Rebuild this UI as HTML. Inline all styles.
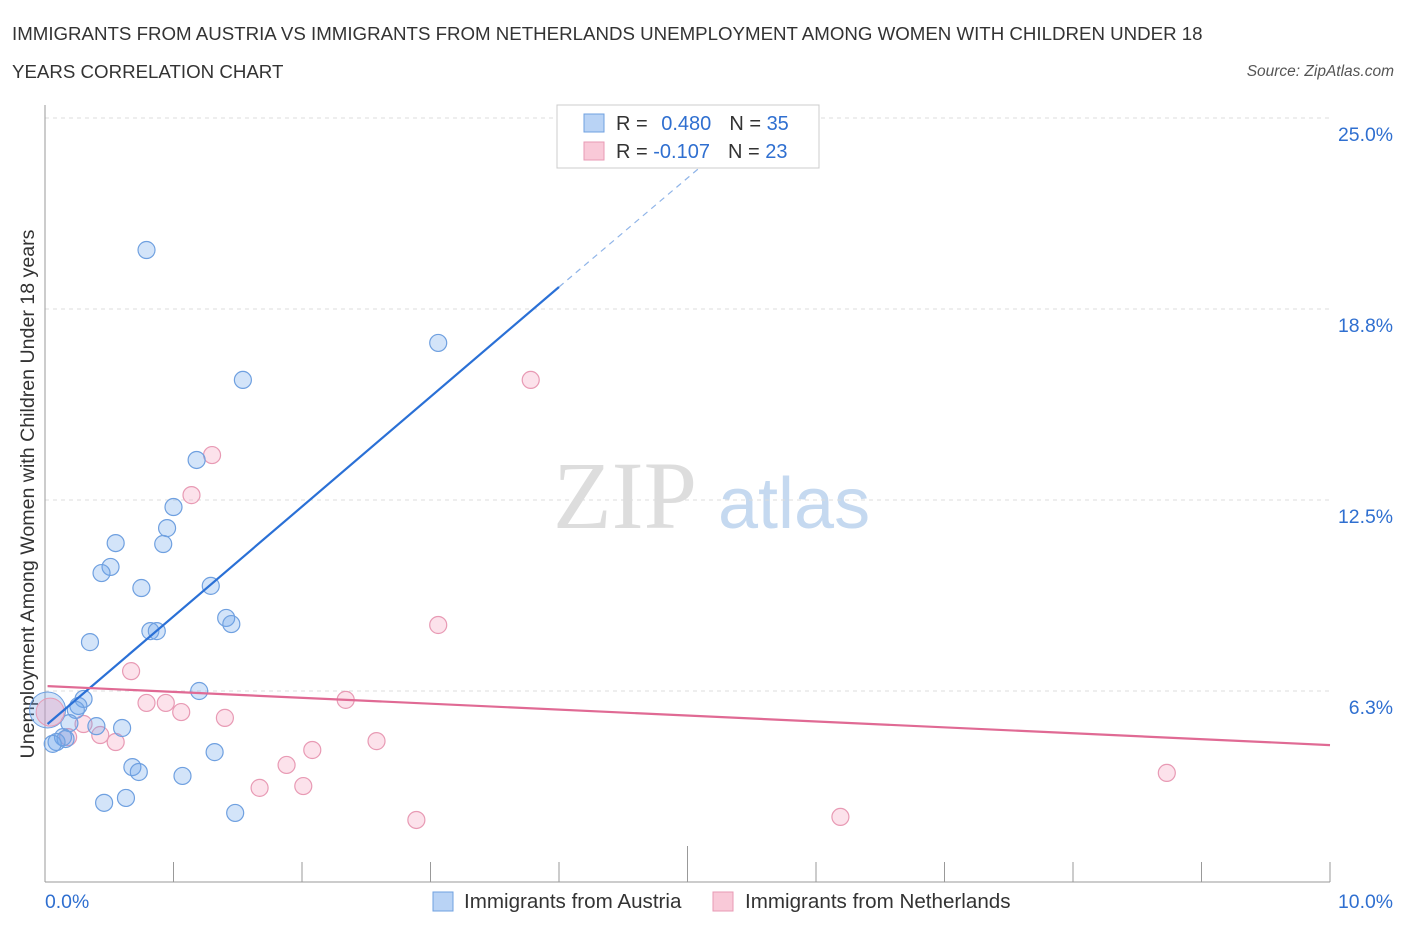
<!DOCTYPE html>
<html><head><meta charset="utf-8"><style>
body{margin:0;background:#fff;font-family:"Liberation Sans",sans-serif;}
svg text{font-family:"Liberation Sans",sans-serif;}
</style></head><body>
<svg id="c" width="1406" height="930">
<text x="12" y="40" font-size="18.7" fill="#333">IMMIGRANTS FROM AUSTRIA VS IMMIGRANTS FROM NETHERLANDS UNEMPLOYMENT AMONG WOMEN WITH CHILDREN UNDER 18</text>
<text x="12" y="78" font-size="18.7" fill="#333">YEARS CORRELATION CHART</text>
<text x="1394" y="76" font-size="15.5" fill="#555" font-style="italic" text-anchor="end">Source: ZipAtlas.com</text>
<text x="553" y="528" font-size="96" fill="#ddd" style="font-family:'Liberation Serif',serif">ZIP</text>
<text x="718" y="528" font-size="72" fill="#c5d9f0">atlas</text>
<text transform="translate(34,494) rotate(-90)" font-size="19.6" fill="#333" text-anchor="middle">Unemployment Among Women with Children Under 18 years</text>
<g id="grid"></g><g id="pts"></g><g id="lines"></g>
<g>
<rect x="557" y="105" width="262" height="63" fill="#fff" stroke="#ccc"/>
<rect x="584" y="114" width="20" height="18" fill="#b9d3f5" stroke="#6fa0e0"/>
<text x="616" y="130" font-size="20" fill="#333">R = <tspan fill="#2f6fd0" dx="8">0.480</tspan><tspan dx="18" fill="#333">N = </tspan><tspan fill="#2f6fd0">35</tspan></text>
<rect x="584" y="142" width="20" height="18" fill="#f9c9d8" stroke="#e89ab4"/>
<text x="616" y="158" font-size="20" fill="#333">R = <tspan fill="#2f6fd0">-0.107</tspan><tspan dx="18" fill="#333">N = </tspan><tspan fill="#2f6fd0">23</tspan></text>
</g>
<g>
<rect x="433" y="892" width="20" height="19" fill="#b9d3f5" stroke="#6fa0e0"/>
<text x="464" y="908" font-size="20.6" fill="#333">Immigrants from Austria</text>
<rect x="713" y="892" width="20" height="19" fill="#f9c9d8" stroke="#e89ab4"/>
<text x="745" y="908" font-size="20.6" fill="#333">Immigrants from Netherlands</text>
</g>
</svg>
<script>
const yTicks=[6.25,12.5,18.75,25];
const yTickLabels=["6.3%","12.5%","18.8%","25.0%"];
const xTicks=[0,1,2,3,4,5,6,7,8,9,10];
const blueX=[0.79,3.06,1.54,1.18,1.00,0.95,0.55,0.92,0.51,0.44,0.75,1.29,1.41,1.45,0.82,0.87,0.35,1.20,0.30,0.26,0.24,0.19,0.40,0.60,0.14,0.16,0.09,0.06,1.32,0.68,0.73,1.07,0.63,0.46,1.48];
const blueY=[20.68,17.64,16.43,13.81,12.27,11.58,11.09,11.06,10.31,10.11,9.62,9.69,8.64,8.44,8.21,8.21,7.85,6.25,5.99,5.76,5.63,5.20,5.10,5.04,4.74,4.68,4.58,4.52,4.25,3.76,3.60,3.47,2.75,2.59,2.26];
const pinkX=[3.78,1.30,1.14,3.06,0.67,2.34,0.79,0.94,1.06,1.40,0.30,0.43,0.55,2.58,0.18,2.08,1.88,2.01,1.67,2.89,6.19,8.73];
const pinkY=[16.43,13.97,12.66,8.41,6.90,5.96,5.86,5.86,5.56,5.37,5.17,4.81,4.58,4.61,4.74,4.32,3.83,3.14,3.08,2.03,2.13,3.57];
const blueBig=[0.02,5.63], pinkBig=[0.04,5.56];
const blueTrend=[0.02,5.17,4.0,19.47,5.55,25];
const pinkTrend=[0.02,6.41,10,4.48];
const X=v=>45+v*128.5, Y=v=>882-v*30.56;
const NS="http://www.w3.org/2000/svg";
function mk(p,t,a){const e=document.createElementNS(NS,t);for(const k in a)e.setAttribute(k,a[k]);p.appendChild(e);return e;}
const grid=document.getElementById('grid');
yTicks.forEach((t,i)=>{
 const l=mk(grid,'line',{x1:45,x2:1330,y1:Y(t),y2:Y(t),stroke:'#ddd','stroke-dasharray':'4,4'});
 
 
 const tx=mk(grid,'text',{x:1393,y:Y(t)+23,'font-size':19.4,fill:'#2f6fd0','text-anchor':'end'});tx.textContent=yTickLabels[i];
 
 
});
mk(grid,'line',{x1:45,x2:45,y1:105,y2:882,stroke:'#999'});
mk(grid,'line',{x1:45,x2:1330,y1:882,y2:882,stroke:'#999'});
xTicks.forEach(t=>{const l=mk(grid,'line',{x1:X(t),x2:X(t),y1:882,y2:t==5?846:862,stroke:'#999'});
 
 });
let t1=mk(grid,'text',{x:45,y:908,'font-size':19.4,fill:'#2f6fd0'});t1.textContent='0.0%';


let t2=mk(grid,'text',{x:1393,y:908,'font-size':19.4,fill:'#2f6fd0','text-anchor':'end'});t2.textContent='10.0%';


const pts=document.getElementById('pts');
pinkX.forEach((x,i)=>{const c=mk(pts,'circle',{cx:X(x),cy:Y(pinkY[i]),r:8.5,fill:'rgba(244,160,188,0.3)',stroke:'#e89ab4','stroke-width':1.2});
 
 });
blueX.forEach((x,i)=>{const c=mk(pts,'circle',{cx:X(x),cy:Y(blueY[i]),r:8.5,fill:'rgba(110,165,235,0.3)',stroke:'#6fa0e0','stroke-width':1.2});
 
 });
let b=mk(pts,'circle',{cx:X(blueBig[0]),cy:Y(blueBig[1]),r:18,fill:'rgba(110,165,235,0.3)',stroke:'#6fa0e0'});


let p=mk(pts,'circle',{cx:X(pinkBig[0]),cy:Y(pinkBig[1]),r:14,fill:'rgba(244,160,188,0.35)',stroke:'#e89ab4'});


const ln=document.getElementById('lines');
let a=mk(ln,'line',{x1:X(blueTrend[0]),y1:Y(blueTrend[1]),x2:X(blueTrend[2]),y2:Y(blueTrend[3]),stroke:'#2a70d6','stroke-width':2.2});


let d=mk(ln,'line',{x1:X(blueTrend[2]),y1:Y(blueTrend[3]),x2:X(blueTrend[4]),y2:Y(blueTrend[5]),stroke:'#8fb4e8','stroke-width':1.2,'stroke-dasharray':'6,5'});


let n=mk(ln,'line',{x1:X(pinkTrend[0]),y1:Y(pinkTrend[1]),x2:X(pinkTrend[2]),y2:Y(pinkTrend[3]),stroke:'#e06a94','stroke-width':2.2});


</script>
</body></html>
